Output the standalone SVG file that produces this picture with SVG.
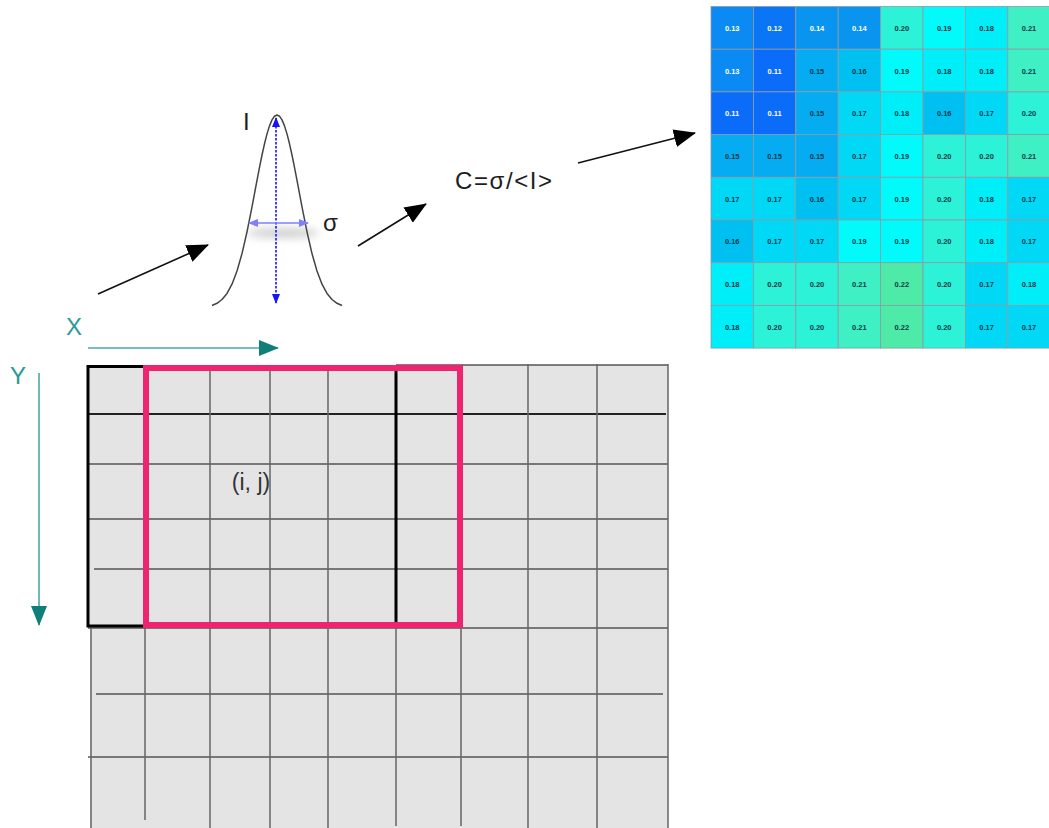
<svg xmlns="http://www.w3.org/2000/svg" width="1049" height="828" viewBox="0 0 1049 828">
<style>
.txt{font-family:"Liberation Sans",Arial,sans-serif;fill:#1e1e1e}
.axis{font-family:"Liberation Sans",Arial,sans-serif;fill:#2a9a96;font-size:24px}
.cell{stroke:#8d9aa6;stroke-width:0.8}
.hv{font-family:"Liberation Sans",Arial,sans-serif;font-size:7.5px;font-weight:bold;text-anchor:middle;fill:#0f3a48}
.hw{fill:#ffffff}
.v11{fill:#0a6cf8}.v12{fill:#0a76f5}.v13{fill:#0a8af2}.v14{fill:#0994ef}.v15{fill:#06acf2}.v16{fill:#00c0f2}
.v17{fill:#00d8f6}.v18{fill:#00eef8}.v19{fill:#02fafa}.v20{fill:#2cf2d8}.v21{fill:#3ef0c4}.v22{fill:#4eeba8}
.gl{stroke:#555;stroke-width:1.6;fill:none}
.gv{stroke:#666;stroke-width:1.8;fill:none;opacity:0.85}
.conn{stroke:#111;stroke-width:1.6;fill:none}
</style>
<defs>
<marker id="ah" markerUnits="userSpaceOnUse" markerWidth="22" markerHeight="18" refX="21" refY="9" orient="auto">
<path d="M0,0 L22,9 L0,18 z" fill="#000"/>
</marker>
<marker id="th" markerUnits="userSpaceOnUse" markerWidth="20" markerHeight="18" refX="19" refY="9" orient="auto">
<path d="M0,1 L20,9 L0,17 z" fill="#0f7f7a"/>
</marker>
<marker id="bh" markerUnits="userSpaceOnUse" markerWidth="10" markerHeight="10" refX="9" refY="5" orient="auto-start-reverse">
<path d="M0,1 L10,5 L0,9 z" fill="#1414ff"/>
</marker>
<marker id="lbh" markerUnits="userSpaceOnUse" markerWidth="10" markerHeight="10" refX="9" refY="5" orient="auto-start-reverse">
<path d="M0,1 L10,5 L0,9 z" fill="#7f7fff"/>
</marker>
<filter id="blur" x="-50%" y="-100%" width="200%" height="300%">
<feGaussianBlur stdDeviation="4"/>
</filter>
</defs>

<g id="grid">
<rect x="88" y="365" width="580" height="263" fill="#e4e4e4"/>
<rect x="90" y="628" width="578" height="200" fill="#e4e4e4"/>
<line class="gl" x1="396" y1="365" x2="668" y2="365"/>
<line class="gl" x1="88" y1="414" x2="666" y2="414" style="stroke:#222;stroke-width:2.2"/>
<line class="gl" x1="88" y1="464" x2="668" y2="464"/>
<line class="gl" x1="88" y1="519" x2="668" y2="519"/>
<line class="gl" x1="94" y1="569" x2="668" y2="569"/>
<line class="gl" x1="88" y1="628" x2="668" y2="628"/>
<line class="gl" x1="96" y1="694" x2="663" y2="694"/>
<line class="gl" x1="88" y1="757" x2="668" y2="757"/>
<line class="gv" x1="210" y1="368" x2="210" y2="828"/>
<line class="gv" x1="270" y1="368" x2="270" y2="828"/>
<line class="gv" x1="328" y1="368" x2="328" y2="828"/>
<line class="gv" x1="528" y1="364" x2="528" y2="828"/>
<line class="gv" x1="597" y1="364" x2="597" y2="828"/>
<line class="gv" x1="668" y1="364" x2="668" y2="828"/>
<line class="gv" x1="91" y1="628" x2="91" y2="828"/>
<line class="gv" x1="145" y1="628" x2="145" y2="820"/>
<line class="gv" x1="396" y1="628" x2="396" y2="826"/>
<line class="gv" x1="461" y1="628" x2="461" y2="826"/>
</g>

<g id="window-black">
<rect x="88" y="366.5" width="308" height="259.5" fill="none" stroke="#000" stroke-width="3"/>
</g>

<g id="window-pink">
<rect x="146" y="368" width="314" height="257" fill="none" stroke="#ee2470" stroke-width="6"/>
</g>

<g id="label-ij">
<text class="txt" x="251" y="490" font-size="23" text-anchor="middle" style="fill:#333">(i, j)</text>
</g>

<g id="axis-x">
<text class="axis" x="66" y="335">X</text>
<line x1="88" y1="348" x2="278" y2="348" stroke="#4aa9a6" stroke-width="1.6" marker-end="url(#th)"/>
</g>

<g id="axis-y">
<text class="axis" x="10" y="384">Y</text>
<line x1="39" y1="373" x2="39" y2="625" stroke="#4aa9a6" stroke-width="1.6" marker-end="url(#th)"/>
</g>

<g id="gaussian">
<ellipse cx="283" cy="233" rx="36" ry="5" fill="#cfcfcf" filter="url(#blur)"/>
<polyline fill="none" stroke="#444" stroke-width="1.5" stroke-linejoin="round" points="212,305.5 217,303.3 222,299.5 227,293.4 232,284.2 237,271 242,253.6 247,231.8 252,206.8 254.5,193.6 257,180.3 259.5,167.3 262,155 264.5,143.8 267,133.9 269.5,125.9 272,119.9 274.5,116.2 277,115 279.5,116.2 282,119.9 284.5,125.9 287,133.9 289.5,143.8 292,155 294.5,167.3 297,180.3 299.5,193.6 302,206.8 307,231.8 312,253.6 317,271 322,284.2 327,293.4 332,299.5 337,303.3 342,305.5"/>
<line x1="276" y1="118" x2="276" y2="303" stroke="#1414ff" stroke-width="1.6" stroke-dasharray="2.5 1.5" marker-start="url(#bh)" marker-end="url(#bh)"/>
<line x1="249" y1="223" x2="308" y2="223" stroke="#7f7fff" stroke-width="1.5" marker-start="url(#lbh)" marker-end="url(#lbh)"/>
<text class="txt" x="243" y="130" font-size="24">I</text>
<text class="txt" x="323" y="231" font-size="24">σ</text>
</g>

<g id="formula">
<text class="txt" x="455" y="189" font-size="24" textLength="97">C=σ/&lt;I&gt;</text>
</g>

<g id="connectors">
<line class="conn" x1="98" y1="294" x2="208" y2="245" marker-end="url(#ah)"/>
<line class="conn" x1="358" y1="246" x2="426" y2="204" marker-end="url(#ah)"/>
<line class="conn" x1="578" y1="163" x2="695" y2="133" marker-end="url(#ah)"/>
</g>

<g id="heatmap">
<rect class="cell v13" x="711" y="6.5" width="42.4" height="42.7"/><rect class="cell v12" x="753.4" y="6.5" width="42.4" height="42.7"/><rect class="cell v14" x="795.8" y="6.5" width="42.4" height="42.7"/><rect class="cell v14" x="838.2" y="6.5" width="42.4" height="42.7"/><rect class="cell v20" x="880.6" y="6.5" width="42.4" height="42.7"/><rect class="cell v19" x="923" y="6.5" width="42.4" height="42.7"/><rect class="cell v18" x="965.4" y="6.5" width="42.4" height="42.7"/><rect class="cell v21" x="1007.8" y="6.5" width="42.4" height="42.7"/>
<rect class="cell v13" x="711" y="49.2" width="42.4" height="42.7"/><rect class="cell v11" x="753.4" y="49.2" width="42.4" height="42.7"/><rect class="cell v15" x="795.8" y="49.2" width="42.4" height="42.7"/><rect class="cell v16" x="838.2" y="49.2" width="42.4" height="42.7"/><rect class="cell v19" x="880.6" y="49.2" width="42.4" height="42.7"/><rect class="cell v18" x="923" y="49.2" width="42.4" height="42.7"/><rect class="cell v18" x="965.4" y="49.2" width="42.4" height="42.7"/><rect class="cell v21" x="1007.8" y="49.2" width="42.4" height="42.7"/>
<rect class="cell v11" x="711" y="91.9" width="42.4" height="42.7"/><rect class="cell v11" x="753.4" y="91.9" width="42.4" height="42.7"/><rect class="cell v15" x="795.8" y="91.9" width="42.4" height="42.7"/><rect class="cell v17" x="838.2" y="91.9" width="42.4" height="42.7"/><rect class="cell v18" x="880.6" y="91.9" width="42.4" height="42.7"/><rect class="cell v16" x="923" y="91.9" width="42.4" height="42.7"/><rect class="cell v17" x="965.4" y="91.9" width="42.4" height="42.7"/><rect class="cell v20" x="1007.8" y="91.9" width="42.4" height="42.7"/>
<rect class="cell v15" x="711" y="134.6" width="42.4" height="42.7"/><rect class="cell v15" x="753.4" y="134.6" width="42.4" height="42.7"/><rect class="cell v15" x="795.8" y="134.6" width="42.4" height="42.7"/><rect class="cell v17" x="838.2" y="134.6" width="42.4" height="42.7"/><rect class="cell v19" x="880.6" y="134.6" width="42.4" height="42.7"/><rect class="cell v20" x="923" y="134.6" width="42.4" height="42.7"/><rect class="cell v20" x="965.4" y="134.6" width="42.4" height="42.7"/><rect class="cell v21" x="1007.8" y="134.6" width="42.4" height="42.7"/>
<rect class="cell v17" x="711" y="177.3" width="42.4" height="42.7"/><rect class="cell v17" x="753.4" y="177.3" width="42.4" height="42.7"/><rect class="cell v16" x="795.8" y="177.3" width="42.4" height="42.7"/><rect class="cell v17" x="838.2" y="177.3" width="42.4" height="42.7"/><rect class="cell v19" x="880.6" y="177.3" width="42.4" height="42.7"/><rect class="cell v20" x="923" y="177.3" width="42.4" height="42.7"/><rect class="cell v18" x="965.4" y="177.3" width="42.4" height="42.7"/><rect class="cell v17" x="1007.8" y="177.3" width="42.4" height="42.7"/>
<rect class="cell v16" x="711" y="220" width="42.4" height="42.7"/><rect class="cell v17" x="753.4" y="220" width="42.4" height="42.7"/><rect class="cell v17" x="795.8" y="220" width="42.4" height="42.7"/><rect class="cell v19" x="838.2" y="220" width="42.4" height="42.7"/><rect class="cell v19" x="880.6" y="220" width="42.4" height="42.7"/><rect class="cell v20" x="923" y="220" width="42.4" height="42.7"/><rect class="cell v18" x="965.4" y="220" width="42.4" height="42.7"/><rect class="cell v17" x="1007.8" y="220" width="42.4" height="42.7"/>
<rect class="cell v18" x="711" y="262.7" width="42.4" height="42.7"/><rect class="cell v20" x="753.4" y="262.7" width="42.4" height="42.7"/><rect class="cell v20" x="795.8" y="262.7" width="42.4" height="42.7"/><rect class="cell v21" x="838.2" y="262.7" width="42.4" height="42.7"/><rect class="cell v22" x="880.6" y="262.7" width="42.4" height="42.7"/><rect class="cell v20" x="923" y="262.7" width="42.4" height="42.7"/><rect class="cell v17" x="965.4" y="262.7" width="42.4" height="42.7"/><rect class="cell v18" x="1007.8" y="262.7" width="42.4" height="42.7"/>
<rect class="cell v18" x="711" y="305.4" width="42.4" height="42.7"/><rect class="cell v20" x="753.4" y="305.4" width="42.4" height="42.7"/><rect class="cell v20" x="795.8" y="305.4" width="42.4" height="42.7"/><rect class="cell v21" x="838.2" y="305.4" width="42.4" height="42.7"/><rect class="cell v22" x="880.6" y="305.4" width="42.4" height="42.7"/><rect class="cell v20" x="923" y="305.4" width="42.4" height="42.7"/><rect class="cell v17" x="965.4" y="305.4" width="42.4" height="42.7"/><rect class="cell v17" x="1007.8" y="305.4" width="42.4" height="42.7"/>

<text class="hv hw" x="732.2" y="30.8">0.13</text><text class="hv hw" x="774.6" y="30.8">0.12</text><text class="hv hw" x="817" y="30.8">0.14</text><text class="hv hw" x="859.4" y="30.8">0.14</text><text class="hv" x="901.8" y="30.8">0.20</text><text class="hv" x="944.2" y="30.8">0.19</text><text class="hv" x="986.6" y="30.8">0.18</text><text class="hv" x="1029" y="30.8">0.21</text>
<text class="hv hw" x="732.2" y="73.5">0.13</text><text class="hv hw" x="774.6" y="73.5">0.11</text><text class="hv" x="817" y="73.5">0.15</text><text class="hv" x="859.4" y="73.5">0.16</text><text class="hv" x="901.8" y="73.5">0.19</text><text class="hv" x="944.2" y="73.5">0.18</text><text class="hv" x="986.6" y="73.5">0.18</text><text class="hv" x="1029" y="73.5">0.21</text>
<text class="hv hw" x="732.2" y="116.2">0.11</text><text class="hv hw" x="774.6" y="116.2">0.11</text><text class="hv" x="817" y="116.2">0.15</text><text class="hv" x="859.4" y="116.2">0.17</text><text class="hv" x="901.8" y="116.2">0.18</text><text class="hv" x="944.2" y="116.2">0.16</text><text class="hv" x="986.6" y="116.2">0.17</text><text class="hv" x="1029" y="116.2">0.20</text>
<text class="hv" x="732.2" y="158.9">0.15</text><text class="hv" x="774.6" y="158.9">0.15</text><text class="hv" x="817" y="158.9">0.15</text><text class="hv" x="859.4" y="158.9">0.17</text><text class="hv" x="901.8" y="158.9">0.19</text><text class="hv" x="944.2" y="158.9">0.20</text><text class="hv" x="986.6" y="158.9">0.20</text><text class="hv" x="1029" y="158.9">0.21</text>
<text class="hv" x="732.2" y="201.6">0.17</text><text class="hv" x="774.6" y="201.6">0.17</text><text class="hv" x="817" y="201.6">0.16</text><text class="hv" x="859.4" y="201.6">0.17</text><text class="hv" x="901.8" y="201.6">0.19</text><text class="hv" x="944.2" y="201.6">0.20</text><text class="hv" x="986.6" y="201.6">0.18</text><text class="hv" x="1029" y="201.6">0.17</text>
<text class="hv" x="732.2" y="244.3">0.16</text><text class="hv" x="774.6" y="244.3">0.17</text><text class="hv" x="817" y="244.3">0.17</text><text class="hv" x="859.4" y="244.3">0.19</text><text class="hv" x="901.8" y="244.3">0.19</text><text class="hv" x="944.2" y="244.3">0.20</text><text class="hv" x="986.6" y="244.3">0.18</text><text class="hv" x="1029" y="244.3">0.17</text>
<text class="hv" x="732.2" y="287">0.18</text><text class="hv" x="774.6" y="287">0.20</text><text class="hv" x="817" y="287">0.20</text><text class="hv" x="859.4" y="287">0.21</text><text class="hv" x="901.8" y="287">0.22</text><text class="hv" x="944.2" y="287">0.20</text><text class="hv" x="986.6" y="287">0.17</text><text class="hv" x="1029" y="287">0.18</text>
<text class="hv" x="732.2" y="329.7">0.18</text><text class="hv" x="774.6" y="329.7">0.20</text><text class="hv" x="817" y="329.7">0.20</text><text class="hv" x="859.4" y="329.7">0.21</text><text class="hv" x="901.8" y="329.7">0.22</text><text class="hv" x="944.2" y="329.7">0.20</text><text class="hv" x="986.6" y="329.7">0.17</text><text class="hv" x="1029" y="329.7">0.17</text>
</g>
</svg>
